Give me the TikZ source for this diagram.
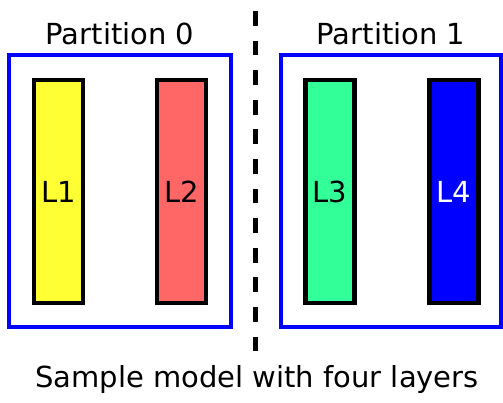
\documentclass[tikz,border=0pt]{standalone}
\usepackage{fontspec}
\setmainfont{DejaVu Sans}
\usetikzlibrary{positioning}
\definecolor{lemon}{RGB}{255,255,51}
\definecolor{salmon}{RGB}{255,102,102}
\definecolor{mint}{RGB}{51,255,153}

\begin{document}
\begin{tikzpicture}[x=1pt,y=-1pt,
    part/.style={draw=blue,line width=4.6pt,inner sep=0pt,minimum height=272pt},
    layer/.style={draw,line width=4.8pt,inner sep=0pt,minimum width=49pt,minimum height=223pt,font=\fontsize{29}{34}\selectfont},
    lbl/.style={inner sep=0pt,anchor=base,font=\fontsize{29}{34}\selectfont}]
    \useasboundingbox (0,0) rectangle (503,403);
    \node[part,minimum width=222pt] (p0) at (120,191) {};
    \node[part,minimum width=220pt] (p1) at (391,191) {};
    \node[layer,fill=lemon] (l1) at (58.5,191.5) {L1};
    \node[layer,fill=salmon] (l2) at (181.5,191.5) {L2};
    \node[layer,fill=mint] (l3) at (330,191.5) {L3};
    \node[layer,fill=blue,text=white] (l4) at (454,191.5) {L4};
    \node[lbl] (t0) at (120,45) {Partition 0};
    \node[lbl] (t1) at (391,45) {Partition 1};
    \node[lbl] (cap) at (257,387) {Sample model with four layers};
    \coordinate (cut top) at (255,11);
    \coordinate (cut bot) at (255,353);
    \draw[line width=5pt,dash pattern=on 14.8pt off 14.8pt] (cut top) -- (cut bot);
  \end{tikzpicture}
\end{document}
